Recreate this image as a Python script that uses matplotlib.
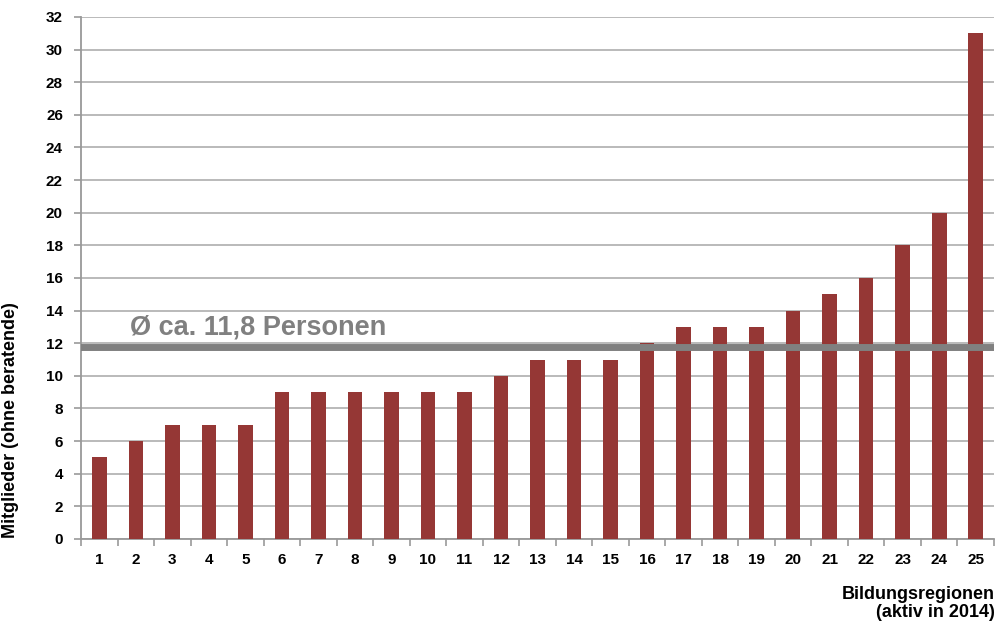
import matplotlib.pyplot as plt
import numpy as np

# Members per education region (active in 2014)
regions = list(range(1, 26))
members = [5, 6, 7, 7, 7, 9, 9, 9, 9, 9, 9, 10, 11, 11, 11,
           12, 13, 13, 13, 14, 15, 16, 18, 20, 31]
y_ticks = list(range(0, 33, 2))

avg = np.mean(members)

plt.rcParams["font.family"] = ["Liberation Sans", "DejaVu Sans"]

fig = plt.figure(figsize=(9.98, 6.26), dpi=100)
ax = fig.add_axes([0.0812, 0.139, 0.9148, 0.834])

ax.bar(regions, members, width=0.4, color="#953735", zorder=3)

# average line with label
ax.axhline(avg, color="#808080", linewidth=5, zorder=4)
avg_txt = f"{avg:.1f}".replace(".", ",")
ax.text(1.85, 12.95, f"Ø ca. {avg_txt} Personen", fontsize=19.5,
        fontweight="bold", color="#808080", va="center", ha="left", zorder=5)

ax.set_xlim(0.5, 25.5)
ax.set_ylim(0, 32)
ax.set_yticks(y_ticks)
ax.set_yticklabels([str(t) for t in y_ticks], fontsize=11, fontweight="bold")
ax.yaxis.grid(True, color="#b4b4b4", linewidth=1.3, zorder=0)

ax.set_xticks(regions)
ax.set_xticklabels([str(r) for r in regions], fontsize=11, fontweight="bold")
ax.set_xticks(np.arange(0.5, 26, 1), minor=True)
ax.tick_params(axis="x", which="major", length=0, pad=10)
ax.tick_params(axis="x", which="minor", length=5, color="#999999", width=1.2)
ax.tick_params(axis="y", length=5, color="#999999", width=1.2, pad=8)

for side in ["top", "right"]:
    ax.spines[side].set_visible(False)
for side in ["left", "bottom"]:
    ax.spines[side].set_color("#999999")
    ax.spines[side].set_linewidth(1.3)

ax.set_ylabel("Mitglieder (ohne beratende)", fontsize=13, fontweight="bold")
ax.yaxis.set_label_coords(-0.068, 0.228)
fig.text(0.997, 0.008, "Bildungsregionen\n(aktiv in 2014)", fontsize=13,
         fontweight="bold", ha="right", va="bottom", multialignment="right",
         linespacing=1.1)

fig.savefig("out.png", dpi=100, facecolor="white")
